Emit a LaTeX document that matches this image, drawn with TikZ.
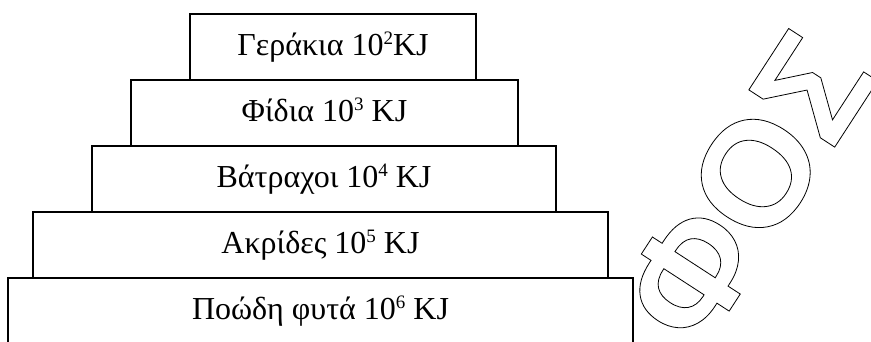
\documentclass[tikz,border=0pt]{standalone}
\usepackage{fontspec}
\setmainfont{Liberation Serif}
\newfontfamily\wordartfont{Liberation Sans Bold}
\providecommand{\Hollow}[1]{\special{pdf:literal direct 1 Tr 0.8 w}#1\special{pdf:literal direct 0 Tr}}
\providecommand{\Sup}[1]{\raisebox{10.5pt}{\fontsize{19}{19}\selectfont#1}}
\tikzset{
level/.style={draw,line width=1.2pt,inner sep=0pt,minimum height=66pt,text height=22pt,text depth=5.8pt,font=\fontsize{32}{38}\selectfont},
wordart/.style={inner sep=0pt,rotate=57,font=\wordartfont\fontsize{150}{150}\selectfont}
}
\begin{document}
\begin{tikzpicture}[x=1pt,y=1pt]
\useasboundingbox (0,0) rectangle (871,342);
\clip (0,0) rectangle (871,342);
\node[level,minimum width=625pt] (plants) at (320.5,31) {Ποώδη φυτά 10\Sup{6} KJ};
\node[level,minimum width=575pt] (locusts) at (320.5,97) {Ακρίδες 10\Sup{5} KJ};
\node[level,minimum width=464pt] (frogs) at (324,163) {Βάτραχοι 10\Sup{4} KJ};
\node[level,minimum width=387pt] (snakes) at (324.5,229) {Φίδια 10\Sup{3} KJ};
\node[level,minimum width=286pt] (hawks) at (333,295) {Γεράκια 10\Sup{2}KJ};
\node[wordart] (light) at (756,168.5) {\Hollow{\llap{Φ}Ο\rlap{Σ}}};
\end{tikzpicture}
\end{document}
